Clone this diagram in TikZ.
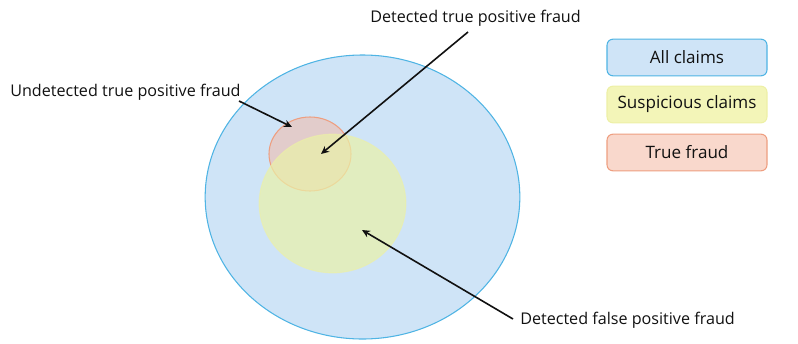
\documentclass[tikz,border=0pt]{standalone}
\usepackage{fontspec}
\setmainfont{Open Sans}
\usetikzlibrary{shapes.geometric,arrows.meta}
\definecolor{blueF}{HTML}{CFE4F7}
\definecolor{blueD}{HTML}{4FB4E4}
\definecolor{yelF}{HTML}{F3F5B8}
\definecolor{yelD}{HTML}{EDF0A6}
\definecolor{yelC}{HTML}{EAF2A8}
\definecolor{orgF}{HTML}{F9D8CC}
\definecolor{orgD}{HTML}{EE9E80}
\definecolor{orgC}{HTML}{F0BCAE}
\definecolor{txt}{HTML}{111111}
\tikzset{
  lbl/.style={font=\fontsize{12.1}{14}\selectfont, text=txt, inner sep=0pt},
  legbox/.style={draw, rounded corners=4.5pt, line width=0.8pt, minimum width=120pt, minimum height=27.5pt, inner sep=0pt, font=\fontsize{12.8}{15}\selectfont, text=txt},
  pointer/.style={-{Stealth[length=6pt,width=5.5pt]}, line width=1.2pt, draw=txt},
  blob/.style={ellipse, inner sep=0pt, line width=0.8pt}
}
\begin{document}
\begin{tikzpicture}[x=0.75pt,y=-0.75pt]
\useasboundingbox (0,0) rectangle (798,343);
% circles
\node[blob, draw=blueD, fill=blueF, minimum width=236pt, minimum height=213pt] (all) at (362.5,197) {};
\node[blob, draw=orgD, fill=orgC, fill opacity=0.6, minimum width=61.5pt, minimum height=55.5pt] (tf) at (310,154) {};
\node[blob, draw=yelD, draw opacity=0.6, fill=yelC, fill opacity=0.7, minimum width=110pt, minimum height=104pt] (sus) at (332.5,203.5) {};
% labels
\node[lbl, anchor=west] (lu) at (10,92) {Undetected true positive fraud};
\node[lbl, anchor=west] (ld) at (370,18) {Detected true positive fraud};
\node[lbl, anchor=west] (lf) at (520,320) {Detected false positive fraud};
% pointers
\coordinate (su) at (239,101);
\coordinate (eu) at (292,127);
\coordinate (sd) at (468,32);
\coordinate (ed) at (321,154);
\coordinate (sf) at (513,319);
\coordinate (ef) at (362,230);
\draw[pointer] (su) -- (eu);
\draw[pointer] (sd) -- (ed);
\draw[pointer] (sf) -- (ef);
% legend
\node[legbox, draw=blueD, fill=blueF] (k1) at (687,57.5) {All claims};
\node[legbox, draw=yelD, fill=yelF] (k2) at (687,104.5) {Suspicious claims};
\node[legbox, draw=orgD, fill=orgF] (k3) at (687,152.5) {True fraud};
\end{tikzpicture}
\end{document}
